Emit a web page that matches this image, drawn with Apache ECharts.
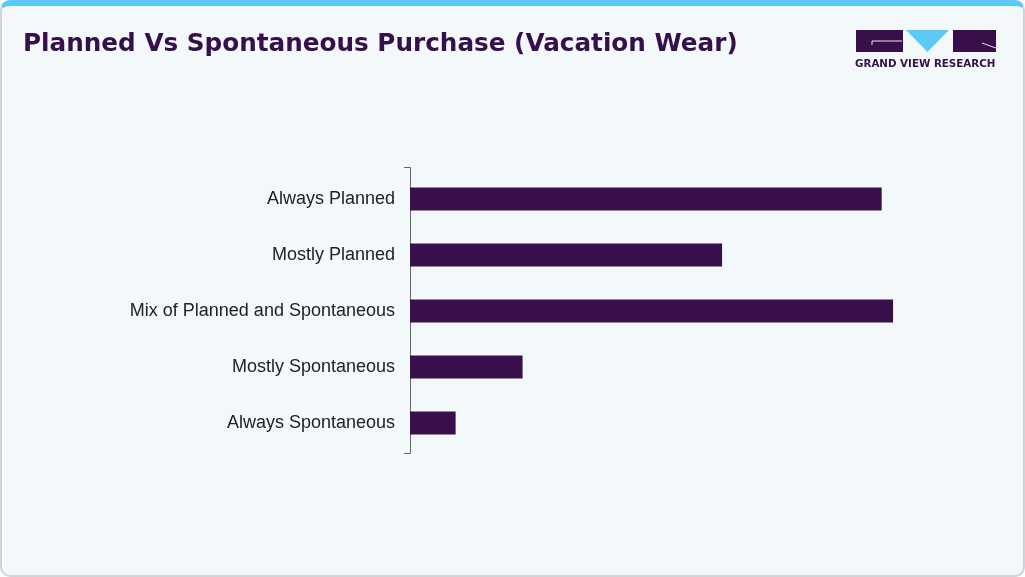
<!DOCTYPE html>
<html><head><meta charset="utf-8">
<script src="https://cdn.jsdelivr.net/npm/echarts@6/dist/echarts.min.js"></script>
<style>
html,body{margin:0;padding:0;background:#fff;}
#wrap{position:absolute;left:0;top:0;width:1021px;height:569px;background:#f3f8fb;border:2px solid #d0d4d8;border-top:6px solid #5ccaf6;border-radius:10px;overflow:hidden;}
#c{width:1021px;height:569px;}
</style></head>
<body><div id="wrap"><div id="c"></div></div>
<script>
var categories = ["Always Planned","Mostly Planned","Mix of Planned and Spontaneous","Mostly Spontaneous","Always Spontaneous"];
var shares = [33.1, 21.9, 33.9, 7.9, 3.2];
var titleText = "Planned Vs Spontaneous Purchase (Vacation Wear)";
var logoText = "GRAND VIEW RESEARCH";

var purple = "#380f4b";
var chart = echarts.init(document.getElementById('c'));
chart.setOption({
  animation:false,
  backgroundColor:'transparent',
  title:{text:titleText,left:16,top:21,textStyle:{fontFamily:'DejaVu Sans',fontWeight:900,fontSize:24.7,color:'#36104a'}},
  grid:{left:408,top:165,width:570,height:280},
  xAxis:{type:'value',min:0,max:40,show:false},
  yAxis:{type:'category',data:categories,inverse:true,
    axisLine:{show:false},
    axisTick:{show:false},
    axisLabel:{fontFamily:'Liberation Sans',fontSize:18,color:'#222',margin:15}},
  series:[{type:'bar',data:shares,barWidth:23,itemStyle:{color:purple},silent:true}],
  graphic:[
    {type:'polyline',shape:{points:[[402,161.5],[408.5,161.5],[408.5,447.5],[402,447.5]]},style:{stroke:'#666',lineWidth:1,fill:null}},
    {type:'rect',shape:{x:854,y:24,width:47,height:22},style:{fill:purple}},
    {type:'polyline',shape:{points:[[870,39],[870,35],[900,35]]},style:{stroke:'#e8e8f0',lineWidth:1,fill:null}},
    {type:'polygon',shape:{points:[[904,24],[947,24],[925.5,46]]},style:{fill:'#5ccaf6'}},
    {type:'rect',shape:{x:951,y:24,width:43,height:22},style:{fill:purple}},
    {type:'polyline',shape:{points:[[980,37],[994,42]]},style:{stroke:'#e8e8f0',lineWidth:1}},
    {type:'text',left:853,top:53,style:{text:logoText,font:'bold 10.3px "DejaVu Sans"',fill:'#36104a'}}
  ]
});
</script></body></html>
